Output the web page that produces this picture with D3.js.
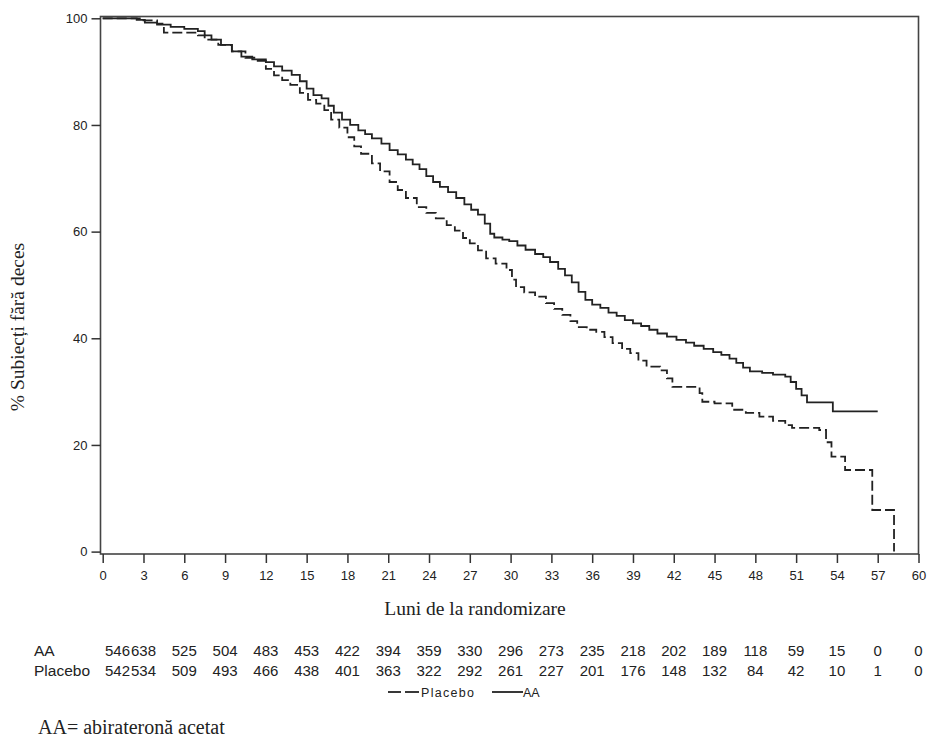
<!DOCTYPE html>
<meta charset="utf-8">
<title>KM</title>
<script src="https://d3js.org/d3.v7.min.js"></script>
<style>
  body { margin: 0; background: #fff; }
  text { fill: #222; }
  .sans { font-family: "Liberation Sans", Arial, sans-serif; }
  .serif { font-family: "Liberation Serif", "Times New Roman", serif; }
</style>
<body>
<div id="chart"></div>
<script>

// months shown on the x axis / risk table
var months = [0,3,6,9,12,15,18,21,24,27,30,33,36,39,42,45,48,51,54,57,60];
var yTicks = [0,20,40,60,80,100];

// numbers at risk (as printed)
var aaRisk      = [546,638,525,504,483,453,422,394,359,330,296,273,235,218,202,189,118,59,15,0,0];
var placeboRisk = [542,534,509,493,466,438,401,363,322,292,261,227,201,176,148,132,84,42,10,1,0];

// Kaplan-Meier steps (month, % alive)
var aaTime = [0,1.5,2.5,3.1,4,5,6,7,7.5,8,8.7,9.5,10.2,11,12,12.6,13.2,13.9,14.5,15,15.5,16.1,16.6,17,17.6,18.2,18.8,19.3,19.8,20.5,21.1,21.7,22.3,22.8,23.3,23.8,24.3,24.8,25.4,26,26.6,27.1,27.6,28.1,28.5,28.8,29.4,29.9,30.5,31.1,31.8,32.4,32.9,33.5,34,34.5,35,35.5,36,36.6,37.2,37.8,38.4,39,39.6,40.2,40.8,41.5,42.2,42.9,43.5,44.2,44.9,45.5,46.1,46.6,47.1,47.6,48.5,49.3,50.2,50.6,51,51.4,51.8,53.7,57];
var aaSurv = [100,100,99.7,99.2,98.8,98.4,98,97.6,96.8,96,95,93.8,92.8,92.3,91.8,91,90.2,89.4,88.2,86.8,85.6,85,83.6,82.3,81,80,79,78.3,77.5,76.5,75.3,74.5,73.5,72.6,71.7,70.4,69.3,68.4,67.4,66.3,65.1,64.1,63.2,61.5,59.6,58.9,58.5,58.2,57.4,56.6,55.8,55.2,54.3,53,51.8,50.5,48.7,47.2,46.3,45.7,44.8,44.2,43.4,42.8,42.3,41.6,40.9,40.3,39.7,39.2,38.6,38,37.4,36.9,36.2,35.4,34.5,33.8,33.5,33.2,32.8,31.8,30.5,29.3,28,26.3,26.3];

var plTime = [0,2,3,4,4.5,7,7.5,8.5,9.5,10.5,11.4,12,12.6,13.2,13.8,14.5,15.1,15.7,16.3,16.8,17.4,18,18.5,19,19.8,20.4,21.1,21.7,22.3,23.1,23.8,24.5,25.3,25.9,26.5,27,27.6,28.2,28.9,29.7,30.1,30.4,31,31.8,32.6,33.2,33.8,34.4,34.9,35.6,36.3,36.9,37.5,38.2,38.8,39.4,40,41,41.5,41.9,43.9,44.1,45,46.3,47.3,48.3,49.3,50.2,50.7,52.7,53.2,53.6,54.6,56.6,58.2];
var plSurv = [100,100,99.6,99,97.3,96.8,96,95,93.8,92.6,92,90.5,89.3,88.4,87.5,86,84.7,84,82.8,81,79.5,77.7,76,74.6,72.8,71.3,69.3,67.8,66.3,64.6,63.5,62.5,61.2,60.2,58.8,57.8,56.5,55,54,52.8,51,49.6,48.6,47.8,46.6,45.5,44.4,43.2,42.1,41.6,41.2,40.2,39.1,38,37.2,35.8,34.7,34,32.5,30.9,29.7,28.1,27.8,26.6,26,25.3,24.5,23.7,23.2,22.8,20.5,17.8,15.3,7.8,0];

var W = 948, H = 743;
var svg = d3.select("#chart").append("svg")
  .attr("width", W).attr("height", H);

var x = d3.scaleLinear().domain([0, 60]).range([102.7, 918.5]);
var y = d3.scaleLinear().domain([0, 100]).range([551.6, 18.3]);

// frame
svg.append("rect")
  .attr("x", 100.5).attr("y", 16.5)
  .attr("width", 918.5 - 100.5).attr("height", 554 - 16.5)
  .attr("fill", "none").attr("stroke", "#444").attr("stroke-width", 1.6);

// y axis
var yAxis = svg.append("g")
  .attr("transform", "translate(100.5,0)")
  .call(d3.axisLeft(y).tickValues(yTicks).tickSize(9).tickPadding(4));
yAxis.select(".domain").remove();
yAxis.selectAll("line").attr("stroke", "#333").attr("stroke-width", 1.5);
yAxis.selectAll("text").attr("class", "sans").style("font-size", "13px").attr("fill", "#222");

// x axis
var xAxis = svg.append("g")
  .attr("transform", "translate(0,554)")
  .call(d3.axisBottom(x).tickValues(months).tickSize(9).tickPadding(8));
xAxis.select(".domain").remove();
xAxis.selectAll("line").attr("stroke", "#333").attr("stroke-width", 1.5);
xAxis.selectAll("text").attr("class", "sans").style("font-size", "13px").attr("fill", "#222");

// axis titles
svg.append("text").attr("class", "serif")
  .attr("x", 475).attr("y", 615)
  .attr("text-anchor", "middle").style("font-size", "19.5px")
  .text("Luni de la randomizare");

svg.append("text").attr("class", "serif")
  .attr("transform", "translate(24,327) rotate(-90)")
  .attr("text-anchor", "middle").style("font-size", "19.5px")
  .text("% Subiecți fără deces");

// curves
var line = d3.line()
  .x(function(d) { return x(d[0]); })
  .y(function(d) { return y(d[1]); })
  .curve(d3.curveStepAfter);

var aaData = aaTime.map(function(t, i) { return [t, aaSurv[i]]; });
var plData = plTime.map(function(t, i) { return [t, plSurv[i]]; });

svg.append("path").datum(plData)
  .attr("d", line)
  .attr("fill", "none").attr("stroke", "#222").attr("stroke-width", 1.8)
  .attr("stroke-dasharray", "10,4");

svg.append("path").datum(aaData)
  .attr("d", line)
  .attr("fill", "none").attr("stroke", "#222").attr("stroke-width", 1.8);

// number at risk table
var rows = [["AA", aaRisk, 656], ["Placebo", placeboRisk, 676]];
rows.forEach(function(r) {
  svg.append("text").attr("class", "sans")
    .attr("x", 34).attr("y", r[2])
    .style("font-size", "15.5px")
    .text(r[0]);
  svg.append("g").selectAll("text")
    .data(r[1])
    .join("text")
    .attr("class", "sans")
    .attr("x", function(d, i) { return i === 0 ? 105 : x(months[i]); })
    .attr("y", r[2])
    .attr("text-anchor", function(d, i) { return i === 0 ? "start" : "middle"; })
    .style("font-size", "15px")
    .text(function(d) { return d; });
});

// legend
var lg = svg.append("g").attr("transform", "translate(0,692)");
lg.append("line").attr("x1", 388).attr("x2", 401).attr("y1", 0).attr("y2", 0)
  .attr("stroke", "#222").attr("stroke-width", 1.8);
lg.append("line").attr("x1", 405).attr("x2", 419).attr("y1", 0).attr("y2", 0)
  .attr("stroke", "#222").attr("stroke-width", 1.8);
lg.append("text").attr("class", "sans")
  .attr("x", 421).attr("y", 4.5)
  .style("font-size", "12.5px").style("letter-spacing", "1.3px")
  .text("Placebo");
lg.append("line").attr("x1", 492).attr("x2", 523).attr("y1", 0).attr("y2", 0)
  .attr("stroke", "#222").attr("stroke-width", 1.8);
lg.append("text").attr("class", "sans")
  .attr("x", 523).attr("y", 4.5)
  .style("font-size", "12.5px")
  .text("AA");

// footnote
svg.append("text").attr("class", "serif")
  .attr("x", 38).attr("y", 734)
  .style("font-size", "20px")
  .text("AA= abirateronă acetat");

</script>
</body>
